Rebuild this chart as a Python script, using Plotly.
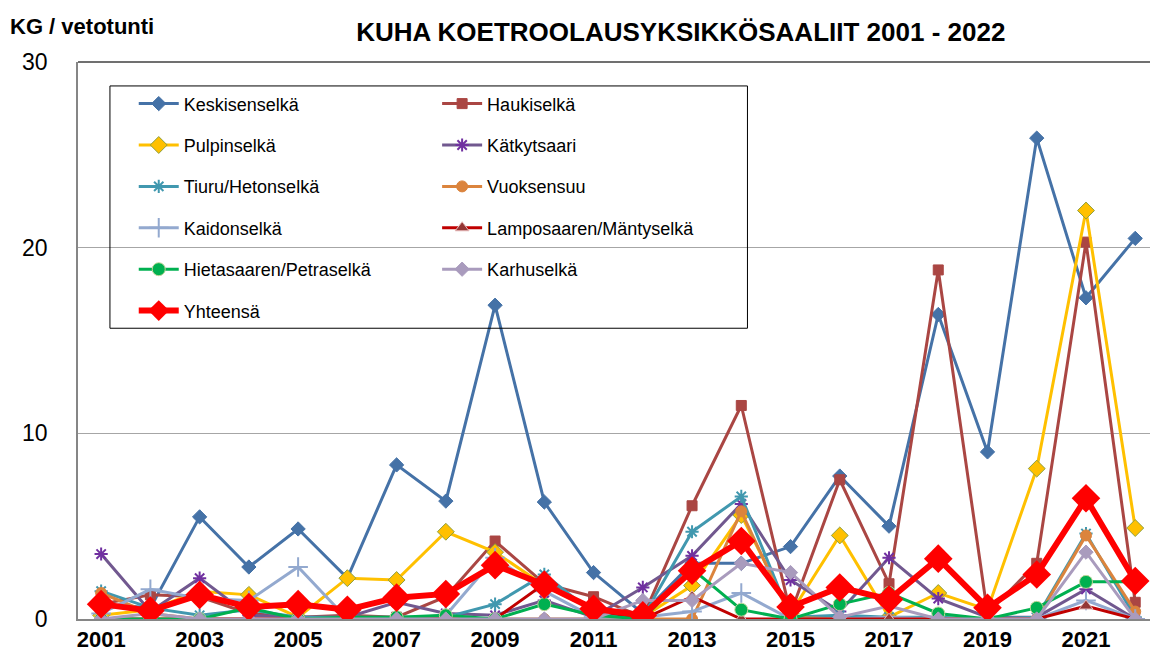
import plotly.graph_objects as go

years = list(range(2001, 2023))
tick_years = list(range(2001, 2023, 2))

keskisenselka = [0.8, 0.6, 5.5, 2.8, 4.85, 2.2, 8.3, 6.35, 16.9, 6.3, 2.5, 0.3, 3.0, 3.0, 3.9, 7.7, 5.0, 16.4, 9.0, 25.9, 17.3, 20.5]
haukiselka = [0.8, 1.3, 1.2, 0.3, 0.1, 0.2, 0.1, 1.2, 4.2, 1.9, 1.2, 0.1, 6.1, 11.5, 0.3, 7.5, 1.9, 18.8, 0.3, 3.0, 20.3, 0.9]
pulpinselka = [0.2, 0.5, 1.5, 1.3, 0.1, 2.2, 2.1, 4.7, 3.6, 1.8, 0.5, 0.1, 1.8, 5.6, 0.3, 4.5, 0.1, 1.4, 0.5, 8.1, 22.0, 4.9]
katkytsaari = [3.5, 0.4, 2.2, 0.2, 0.1, 0.1, 0.9, 0.3, 0.2, 1.0, 0.1, 1.7, 3.4, 6.2, 2.1, 0.4, 3.3, 1.1, 0.1, 0.1, 1.6, 0.0]
tiuru = [1.5, 0.6, 0.2, 0.5, 0.1, 0.1, 0.1, 0.1, 0.8, 2.4, 0.3, 0.1, 4.7, 6.6, 0.1, 0.2, 0.1, 0.1, 0.0, 0.1, 4.6, 0.1]
vuoksensuu = [1.4, 0.3, 0.0, 0.0, 0.0, 0.0, 0.0, 0.0, 0.0, 0.0, 0.0, 0.0, 0.0, 5.8, 0.1, 0.0, 0.0, 0.0, 0.0, 0.0, 4.5, 0.4]
kaidonselka = [0.3, 1.6, 1.1, 1.0, 2.8, 0.0, 0.0, 0.2, 3.3, 1.5, 0.1, 0.1, 0.4, 1.4, 0.0, 0.0, 0.1, 0.0, 0.0, 0.0, 1.0, 0.0]
lamposaaren = [0.0, 0.0, 0.0, 0.0, 0.0, 0.0, 0.0, 0.0, 0.0, 1.9, 0.5, 0.0, 1.2, 0.0, 0.0, 0.0, 0.0, 0.0, 0.0, 0.0, 0.7, 0.0]
hietasaaren = [0.0, 0.0, 0.0, 0.6, 0.0, 0.1, 0.1, 0.2, 0.0, 0.8, 0.2, 0.0, 2.7, 0.5, 0.0, 0.8, 1.4, 0.3, 0.0, 0.6, 2.0, 2.0]
karhuselka = [0.0, 0.3, 0.0, 0.0, 0.0, 0.0, 0.0, 0.0, 0.0, 0.0, 0.0, 1.0, 1.0, 3.0, 2.5, 0.1, 0.7, 0.0, 0.0, 0.0, 3.6, 0.0]
yhteensa = [0.8, 0.45, 1.3, 0.65, 0.8, 0.5, 1.15, 1.35, 2.9, 1.85, 0.55, 0.2, 2.6, 4.2, 0.65, 1.7, 1.05, 3.25, 0.6, 2.4, 6.5, 2.05]

# name, values, line colour, marker symbol, marker size, marker fill, marker outline, legend
series = [
    ("Keskisenselkä", keskisenselka, "#4572A7", "diamond", 11, "#4572A7", "#4572A7", "legend"),
    ("Haukiselkä", haukiselka, "#AA4643", "square", 10, "#AA4643", "#AA4643", "legend2"),
    ("Pulpinselkä", pulpinselka, "#FFC000", "diamond", 13, "#FFC000", "#8EA040", "legend"),
    ("Kätkytsaari", katkytsaari, "#71588F", "asterisk-open", 11, "#7030A0", "#7030A0", "legend2"),
    ("Tiuru/Hetonselkä", tiuru, "#4198AF", "asterisk-open", 11, "#4198AF", "#4198AF", "legend"),
    ("Vuoksensuu", vuoksensuu, "#DB843D", "circle", 11, "#DB843D", "#DB843D", "legend2"),
    ("Kaidonselkä", kaidonselka, "#93A9CF", "cross-thin-open", 14, "#93A9CF", "#93A9CF", "legend"),
    ("Lamposaaren/Mäntyselkä", lamposaaren, "#C00000", "triangle-up", 12, "#943634", "#E6B9B8", "legend2"),
    ("Hietasaaren/Petraselkä", hietasaaren, "#00B050", "circle", 13, "#00B050", "#C3D69B", "legend"),
    ("Karhuselkä", karhuselka, "#A99BBD", "diamond", 11, "#A99BBD", "#A99BBD", "legend2"),
]

FONT = "Liberation Sans, Arial, sans-serif"

fig = go.Figure()
for name, vals, col, sym, size, fill, outline, leg in series:
    open_sym = sym.endswith("open")
    fig.add_trace(go.Scatter(
        x=years, y=vals, name=name, mode="lines+markers",
        line=dict(color=col, width=3),
        marker=dict(symbol=sym, size=size, color=fill,
                    line=dict(color=outline, width=2 if open_sym else 1)),
        legend=leg, legendgroup=name,
    ))

fig.add_trace(go.Scatter(
    x=years, y=yhteensa, name="Yhteensä", mode="lines+markers",
    line=dict(color="#FF0000", width=6),
    marker=dict(symbol="diamond", size=22, color="#FF0000", line=dict(width=0)),
    legend="legend", legendgroup="Yhteensä",
))

legend_font = dict(family=FONT, size=18, color="#000000")

fig.update_layout(
    width=1150, height=662,
    margin=dict(l=78, r=0, t=62, b=43),
    paper_bgcolor="white", plot_bgcolor="white",
    showlegend=True,
    title=dict(text="<b>KUHA KOETROOLAUSYKSIKKÖSAALIIT 2001 - 2022</b>",
               x=0.592, xanchor="center", y=0.952, yanchor="middle",
               font=dict(family=FONT, size=26, color="#000000")),
    legend=dict(x=0.052, y=0.958, xanchor="left", yanchor="top",
                bgcolor="rgba(0,0,0,0)", font=legend_font, tracegroupgap=15,
                itemwidth=40),
    legend2=dict(x=0.335, y=0.958, xanchor="left", yanchor="top",
                 bgcolor="rgba(0,0,0,0)", font=legend_font, tracegroupgap=15,
                 itemwidth=40),
    xaxis=dict(range=[2000.53, 2022.3], tickmode="array", tickvals=tick_years,
               ticktext=[str(y) for y in tick_years], showgrid=False,
               showline=True, linecolor="#868686", linewidth=1.5, ticks="",
               tickfont=dict(family=FONT, size=22, color="#000000", weight="bold"),
               zeroline=False),
    yaxis=dict(range=[0, 30], dtick=10, showgrid=True, gridcolor="#A6A6A6", gridwidth=1,
               showline=True, linecolor="#868686", linewidth=1.5, ticks="",
               ticklabelstandoff=24,
               tickfont=dict(family=FONT, size=23, color="#000000"),
               zeroline=False),
    annotations=[dict(text="<b>KG / vetotunti</b>", xref="paper", yref="paper",
                      x=-0.0655, y=1.063, xanchor="left", yanchor="middle", showarrow=False,
                      font=dict(family=FONT, size=22, color="#000000"))],
    shapes=[
        dict(type="line", xref="paper", yref="paper", x0=0, x1=1, y0=1, y1=1,
             line=dict(color="#404040", width=1.5), layer="above"),
        dict(type="rect", xref="paper", yref="paper", x0=0.0298, x1=0.6245, y0=0.522, y1=0.957,
             line=dict(color="#000000", width=1), fillcolor="rgba(0,0,0,0)", layer="above"),
    ],
)

fig.write_html("out.html", config={"displayModeBar": False},
               post_script="document.body.style.margin='0';")
